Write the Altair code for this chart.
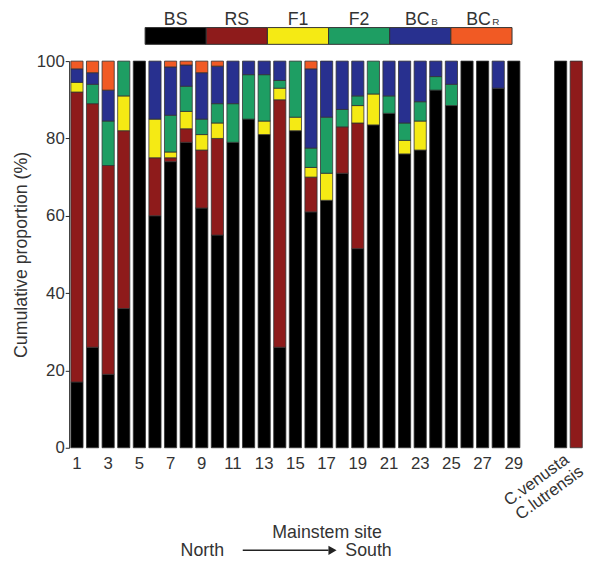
import altair as alt
import pandas as pd

# ---------------- data ----------------
sites = [str(i) for i in range(1, 30)] + ["C.venusta", "C.lutrensis"]
x_domain = [str(i) for i in range(1, 30)] + [" ", "  ", "C.venusta", "C.lutrensis"]
tick_labels = [str(i) for i in range(1, 30, 2)]
species_a = ["C.venusta"]
species_b = ["C.lutrensis"]

categories = ["BS", "RS", "F1", "F2", "BCB", "BCR"]
cat_main = ["BS", "RS", "F1", "F2", "BC", "BC"]
cat_sub = ["", "", "", "", "B", "R"]
colors = ["#000000", "#8E1B1B", "#F5EA14", "#1E9E63", "#28308F", "#F15A24"]

BS = [17, 26, 19, 36, 100, 60, 74, 79, 62, 55, 79, 85, 81, 26, 82, 61, 64, 71, 51.5, 83.5,
      86.5, 76, 77, 92.5, 88.5, 100, 100, 93, 100, 100, 0]
RS = [75, 63, 54, 46, 0, 15, 1, 3.5, 15, 25, 0, 0, 0, 64, 0, 9, 0, 12, 32.5, 0,
      0, 0, 0, 0, 0, 0, 0, 0, 0, 0, 100]
F1 = [2.5, 0, 0, 9, 0, 10, 1.5, 4.5, 4, 4, 0, 0, 3.5, 3, 3.5, 2.5, 7, 0, 4.5, 8,
      0, 3.5, 7.5, 0, 0, 0, 0, 0, 0, 0, 0]
F2 = [0, 5, 11.5, 9, 0, 0, 9.5, 6.5, 4, 5, 10, 11.5, 12, 2, 14.5, 5, 14.5, 4.5, 2.5, 8.5,
      4.5, 4.5, 5, 3.5, 5.5, 0, 0, 0, 0, 0, 0]
BCB = [3.5, 3, 8, 0, 0, 15, 12.5, 5.5, 12, 9.7, 11, 3.5, 3.5, 5, 0, 20.5, 14.5, 12.5, 9, 0,
       9, 16, 10.5, 4, 6, 0, 0, 7, 0, 0, 0]
BCR = [2, 3, 7.5, 0, 0, 0, 1.5, 1, 3, 1.3, 0, 0, 0, 0, 0, 2, 0, 0, 0, 0,
       0, 0, 0, 0, 0, 0, 0, 0, 0, 0, 0]

rows = []
for ci, (cat, vals) in enumerate(zip(categories, [BS, RS, F1, F2, BCB, BCR])):
    for s, v in zip(sites, vals):
        if v > 0:
            rows.append({"site": s, "cat": cat, "order": ci, "value": v})
df = pd.DataFrame(rows)

leg_df = pd.DataFrame({"cat": categories, "label": cat_main, "sub": cat_sub})
dummy = pd.DataFrame({"t": ["North", "South"]})

TXT = "#333333"
FONT = "Liberation Sans"

xscale = alt.Scale(domain=x_domain, paddingInner=0.22, paddingOuter=0.11)
cscale = alt.Scale(domain=categories, range=colors)

bars = alt.Chart(df).mark_bar(stroke="#333333", strokeWidth=0.8).encode(
    x=alt.X("site:N", scale=xscale, sort=x_domain,
            axis=alt.Axis(values=tick_labels, labelAngle=0, ticks=False, domain=False,
                          labelFontSize=17, labelColor=TXT, labelPadding=8, labelFont=FONT,
                          title="Mainstem site", titleFontSize=18, titleFontWeight="normal",
                          titleColor=TXT, titleFont=FONT, titlePadding=53)),
    y=alt.Y("value:Q", stack="zero", scale=alt.Scale(domain=[0, 100], nice=False),
            axis=alt.Axis(values=[0, 20, 40, 60, 80, 100], grid=False, tickSize=4,
                          domainColor="#222222", tickColor="#222222", labelFontSize=17,
                          labelColor=TXT, labelFont=FONT, labelPadding=1,
                          title="Cumulative proportion (%)", titleFontSize=18,
                          titleFontWeight="normal", titleColor=TXT, titleFont=FONT,
                          titlePadding=6)),
    color=alt.Color("cat:N", scale=cscale, legend=None),
    order=alt.Order("order:Q", sort="ascending"),
)


def species_axis_layer(names, padding, offset_x):
    return alt.Chart(pd.DataFrame({"site": names})).mark_point(opacity=0).encode(
        x=alt.X("site:N", scale=xscale, title=None,
                axis=alt.Axis(orient="bottom", values=names, labelAngle=-36,
                              labelAlign="right", labelBaseline="middle", ticks=False,
                              domain=False, labelFontSize=17, labelColor=TXT,
                              labelFont=FONT, labelPadding=padding,
                              labelOffset=offset_x)),
        y=alt.value(0),
    )


sp_venusta = species_axis_layer(species_a, 10, 6)
sp_lutrensis = species_axis_layer(species_b, 22, 5)

leg_x = alt.X("cat:N", scale=alt.Scale(domain=categories, range=[77, 449],
                                       paddingInner=0, paddingOuter=0), axis=None)

leg_rect = alt.Chart(leg_df).mark_rect(stroke="#333333", strokeWidth=1).encode(
    x=leg_x, y=alt.value(-34), y2=alt.value(-17),
    color=alt.Color("cat:N", scale=cscale, legend=None),
)
leg_text = alt.Chart(leg_df).transform_filter("datum.sub == ''").mark_text(
    fontSize=18, color=TXT, font=FONT, baseline="alphabetic").encode(
    x=leg_x, y=alt.value(-37), text="label:N")
leg_text_bc = alt.Chart(leg_df).transform_filter("datum.sub != ''").mark_text(
    fontSize=18, color=TXT, font=FONT, baseline="alphabetic", dx=-3).encode(
    x=leg_x, y=alt.value(-37), text="label:N")
leg_sub = alt.Chart(leg_df).transform_filter("datum.sub != ''").mark_text(
    fontSize=10, color=TXT, font=FONT, baseline="alphabetic", align="left", dx=11).encode(
    x=leg_x, y=alt.value(-37), text="sub:N")

north = alt.Chart(dummy).transform_filter("datum.t == 'North'").mark_text(
    fontSize=18, color=TXT, font=FONT, align="left", baseline="bottom").encode(
    x=alt.value(113), y=alt.value(506), text="t:N")
south = alt.Chart(dummy).transform_filter("datum.t == 'South'").mark_text(
    fontSize=18, color=TXT, font=FONT, align="left", baseline="bottom").encode(
    x=alt.value(280), y=alt.value(506), text="t:N")
arrow_line = alt.Chart(dummy).transform_filter("datum.t == 'North'").mark_rule(
    color="#222222", strokeWidth=1.5).encode(
    x=alt.value(176), x2=alt.value(263), y=alt.value(496))
arrow_head = alt.Chart(dummy).transform_filter("datum.t == 'North'").mark_point(
    shape="triangle-right", filled=True, size=90, color="#222222", opacity=1).encode(
    x=alt.value(267), y=alt.value(496))

chart = alt.layer(
    bars, sp_venusta, sp_lutrensis, leg_rect, leg_text, leg_text_bc, leg_sub,
    north, south, arrow_line, arrow_head
).resolve_scale(x="independent").properties(
    width=522, height=392,
    autosize=alt.AutoSizeParams(type="none"),
    padding={"left": 62, "top": 50, "right": 2, "bottom": 114},
).configure_view(stroke=None)

chart.save("out.html", embed_options={"renderer": "svg", "actions": False})
